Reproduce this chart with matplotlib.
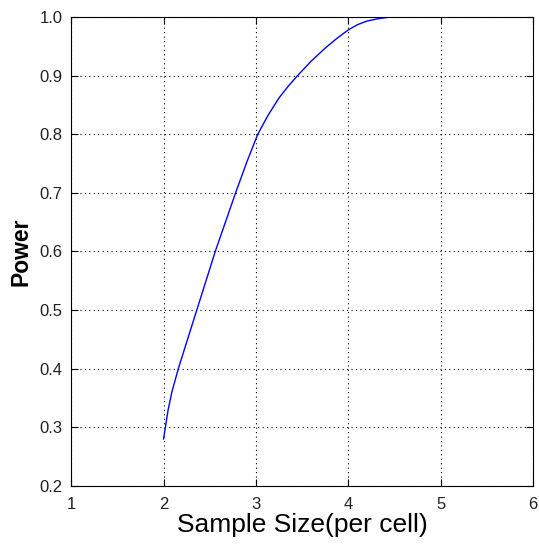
import matplotlib
matplotlib.use("Agg")
import matplotlib.pyplot as plt

# values
sample_size = [2.00, 2.02, 2.05, 2.09, 2.16, 2.26, 2.36, 2.46, 2.56, 2.67, 2.78,
               2.90, 3.02, 3.13, 3.25, 3.35, 3.45, 3.60, 3.75, 3.88, 4.00, 4.10,
               4.20, 4.32, 4.45]
power = [0.280, 0.300, 0.330, 0.360, 0.400, 0.450, 0.500, 0.550, 0.600, 0.650,
         0.700, 0.752, 0.800, 0.832, 0.862, 0.882, 0.900, 0.925, 0.947, 0.964,
         0.978, 0.987, 0.993, 0.997, 1.000]
x_ticks = [1, 2, 3, 4, 5, 6]
y_ticks = [0.2, 0.3, 0.4, 0.5, 0.6, 0.7, 0.8, 0.9, 1.0]

plt.rcParams["font.family"] = ["Liberation Sans", "DejaVu Sans"]

fig = plt.figure(figsize=(5.39, 5.49), dpi=100)
ax = fig.add_axes([0.132, 0.115, 0.857, 0.854])

ax.plot(sample_size, power, color=(0, 0, 1), linewidth=1.0)

ax.set_xlim(1, 6)
ax.set_ylim(0.2, 1.0)
ax.set_xticks(x_ticks)
ax.set_yticks(y_ticks)
ax.set_xticklabels([str(t) for t in x_ticks])
ax.set_yticklabels(["%.1f" % t for t in y_ticks])

ax.grid(True, color="black", linestyle=(0, (1, 3)), linewidth=0.8)
ax.tick_params(direction="in", length=5, width=0.8, labelsize=12,
               top=True, right=True, colors="black", labelcolor="#222222")
ax.tick_params(axis="x", pad=8)
ax.tick_params(axis="y", pad=6)
for s in ax.spines.values():
    s.set_linewidth(0.8)

ax.set_xlabel("Sample Size(per cell)", fontsize=19, labelpad=1)
ax.set_ylabel("Power", fontsize=16.5, fontweight="bold", labelpad=5)

fig.savefig("out.png", dpi=100)
